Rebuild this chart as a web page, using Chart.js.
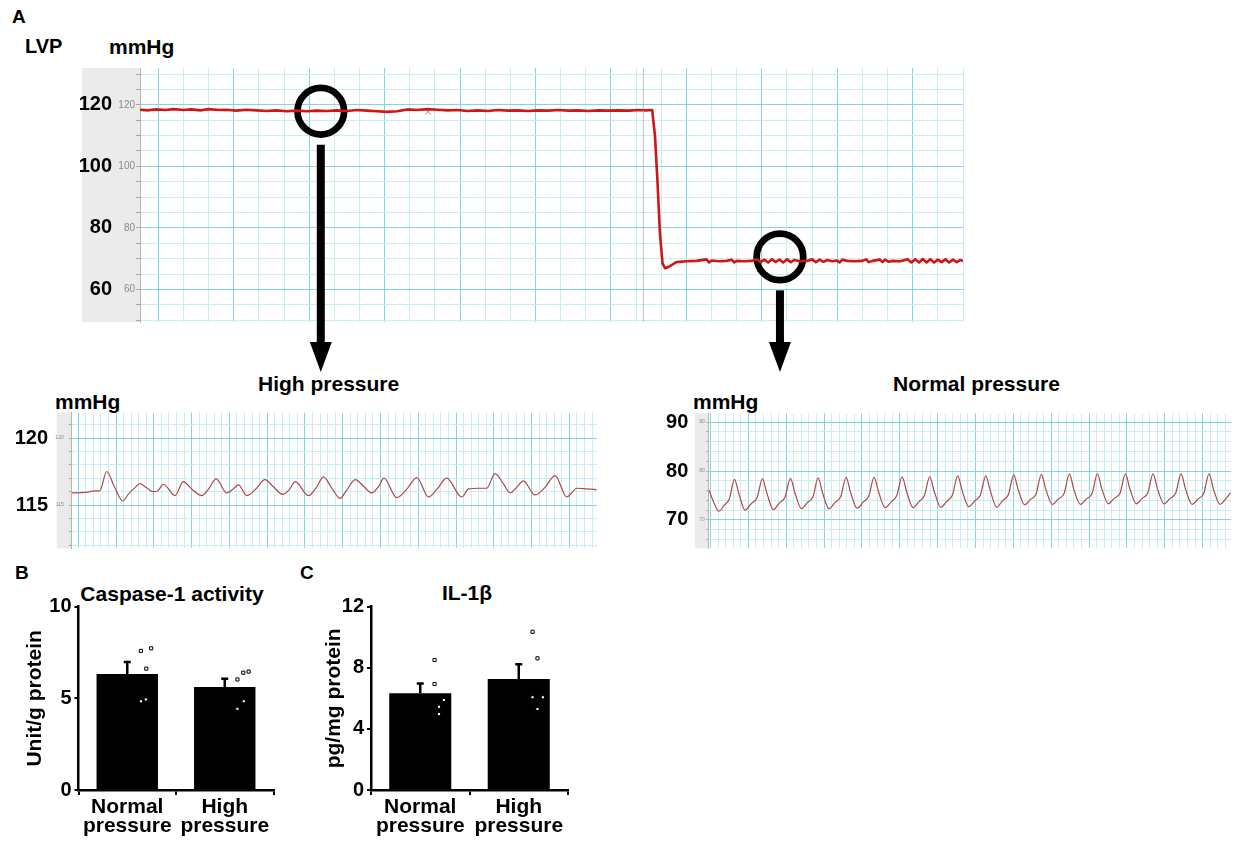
<!DOCTYPE html>
<html>
<head>
<meta charset="utf-8">
<script src="https://cdn.jsdelivr.net/npm/chart.js@4.4.1/dist/chart.umd.min.js"></script>
<style>
    body { margin: 0; background: #fff; }
    #page { position: relative; width: 1238px; height: 843px; overflow: hidden;
            font-family: "Liberation Sans", Arial, sans-serif; }
    #page canvas { position: absolute; }
    .lbl { position: absolute; font-weight: bold; font-size: 21px; line-height: 1; color: #000; white-space: nowrap; }
    .ctr { text-align: center; width: 300px; }
</style>
</head>
<body>
<div id="page">
    <div class="lbl" style="left:12px;top:7px;font-size:19px">A</div>
    <div class="lbl" style="left:25px;top:36px;font-size:20px">LVP</div>
    <div class="lbl" style="left:109px;top:36px">mmHg</div>
    <div class="lbl" style="left:258px;top:373px">High pressure</div>
    <div class="lbl" style="left:55px;top:391px">mmHg</div>
    <div class="lbl" style="left:893px;top:373px">Normal pressure</div>
    <div class="lbl" style="left:693px;top:391px">mmHg</div>
    <div class="lbl" style="left:15px;top:563px;font-size:19px">B</div>
    <div class="lbl" style="left:300px;top:563px;font-size:19px">C</div>
    <div class="lbl ctr" style="left:22px;top:583px">Caspase-1 activity</div>
    <div class="lbl ctr" style="left:317px;top:582px">IL-1β</div>

    <canvas id="lvpChart" width="980" height="320" style="left:0;top:60px"></canvas>
    <canvas id="highChart" width="605" height="150" style="left:0;top:405px"></canvas>
    <canvas id="normalChart" width="600" height="150" style="left:640px;top:405px"></canvas>
    <canvas id="caspaseChart" width="290" height="263" style="left:0;top:580px"></canvas>
    <canvas id="il1bChart" width="300" height="263" style="left:290px;top:580px"></canvas>
</div>

<script>
// ---- panel A overview: x in chart-paper divisions, y in mmHg ----
const lvpTime = [-0.73, -0.4, -0.1, 0.3, 0.6, 1.0, 1.3, 1.7, 2.0, 2.4,
    2.7, 3.1, 3.5, 3.9, 4.3, 4.7, 5.1, 5.5, 5.9, 6.3,
    6.7, 7.1, 7.5, 7.9, 8.3, 8.7, 9.1, 9.5, 9.9, 10.3,
    10.7, 11.1, 11.5, 11.9, 12.3, 12.7, 13.1, 13.5, 13.9, 14.3,
    14.7, 15.1, 15.5, 15.9, 16.3, 16.7, 17.1, 17.5, 17.9, 18.3,
    18.7, 19.1, 19.4, 19.64, 19.75, 19.85, 19.95, 20.05, 20.15, 20.3,
    20.6, 21.0, 21.4, 21.8, 21.9, 22.0, 22.3, 22.6, 22.8, 22.9,
    23.0, 23.3, 23.6, 23.8, 23.95, 24.1, 24.25, 24.4, 24.55, 24.7,
    24.85, 25.0, 25.15, 25.3, 25.5, 25.8, 26.0, 26.15, 26.3, 26.45,
    26.6, 26.8, 27.0, 27.1, 27.2, 27.4, 27.7, 28.0, 28.15, 28.25,
    28.4, 28.7, 28.8, 28.9, 29.05, 29.2, 29.5, 29.8, 29.95, 30.1,
    30.25, 30.4, 30.55, 30.7, 30.85, 31.0, 31.15, 31.3, 31.45, 31.6,
    31.75, 31.9, 32.0];
const lvpPressure = [118.4, 118.2, 118.5, 118.3, 118.6, 118.3, 118.5, 118.2, 118.6, 118.3,
    118.4, 118.1, 118.4, 118.2, 118.0, 118.2, 117.9, 118.1, 117.9, 118.1,
    118.0, 118.2, 118.0, 118.3, 118.1, 117.9, 117.7, 117.9, 118.5, 118.3,
    118.6, 118.4, 118.2, 118.3, 118.0, 118.2, 118.0, 118.3, 118.1, 118.2,
    118.0, 118.2, 118.1, 118.3, 118.1, 118.2, 118.0, 118.2, 118.1, 118.2,
    118.1, 118.3, 118.2, 118.3, 110.0, 95.0, 78.0, 68.5, 66.9, 67.4,
    68.9, 69.2, 69.3, 69.8, 68.8, 69.4, 69.2, 69.3, 69.7, 68.8,
    69.3, 69.2, 69.3, 69.8, 68.9, 69.7, 68.8, 69.8, 69.0, 69.7,
    68.8, 69.8, 68.9, 69.6, 69.2, 69.3, 69.8, 68.9, 69.7, 69.0,
    69.6, 69.2, 69.4, 68.8, 69.7, 69.3, 69.2, 69.3, 69.8, 68.9,
    69.3, 69.7, 68.9, 69.7, 69.0, 69.3, 69.2, 69.8, 68.8, 69.8,
    68.8, 69.9, 68.8, 69.8, 68.8, 69.7, 68.9, 69.8, 68.8, 69.7,
    68.9, 69.6, 69.2];
const lvpTicks = [60, 80, 100, 120];
const markerTime = 19.29;               // grey event line of the recorder
const crossTime = [10.73], crossPressure = [117.8];
const zoomTime = [6.46, 24.72], zoomPressure = [117.9, 70.6];

// ---- zoomed traces ----
const highTime = [-0.17, 0.2, 0.45, 0.57, 0.75, 0.95, 1.18, 1.32, 1.5, 1.63,
    1.8, 1.98, 2.1, 2.25, 2.56, 2.78, 3.0, 3.27, 3.45, 3.65,
    3.93, 4.1, 4.24, 4.46, 4.7, 4.94, 5.15, 5.41, 5.6, 5.74,
    6.09, 6.3, 6.49, 6.7, 6.93, 7.1, 7.33, 7.55, 7.77, 7.95,
    8.09, 8.43, 8.7, 8.96, 9.27, 9.5, 9.75, 10.15, 10.33, 10.6,
    10.81, 11.03, 11.25, 11.43, 11.6, 11.78, 12.09, 12.35, 12.62, 12.93,
    13.2, 13.45, 13.72];
const highPressure = [115.9, 115.95, 116.05, 116.05, 117.5, 116.4, 115.3, 115.8, 116.3, 116.6,
    116.3, 116.0, 116.05, 116.55, 115.7, 116.75, 116.2, 115.7, 116.2, 116.95,
    115.9, 116.2, 116.5, 115.7, 116.2, 116.9, 116.4, 115.8, 116.2, 116.75,
    115.7, 116.3, 117.1, 116.3, 115.5, 116.1, 116.9, 116.4, 115.9, 116.4,
    117.0, 115.55, 116.2, 117.05, 115.6, 116.2, 117.0, 115.6, 116.2, 116.25,
    116.25, 117.35, 116.6, 115.9, 116.3, 116.8, 115.75, 116.3, 117.2, 115.6,
    116.25, 116.2, 116.15];
const highTicks = [115, 120];

const normalTime = [
    -0.04, 0.10, 0.22, 0.36, 0.50,
    0.63, 0.75, 0.91, 1.07, 1.23,
    1.37, 1.49, 1.66, 1.81, 1.97,
    2.11, 2.23, 2.40, 2.55, 2.71,
    2.84, 2.96, 3.13, 3.29, 3.44,
    3.58, 3.70, 3.87, 4.03, 4.18,
    4.32, 4.44, 4.61, 4.77, 4.92,
    5.06, 5.18, 5.35, 5.50, 5.65,
    5.79, 5.91, 6.08, 6.24, 6.39,
    6.53, 6.65, 6.82, 6.98, 7.13,
    7.27, 7.39, 7.56, 7.71, 7.87,
    8.01, 8.13, 8.30, 8.45, 8.60,
    8.74, 8.86, 9.03, 9.19, 9.34,
    9.48, 9.60, 9.77, 9.93, 10.08,
    10.22, 10.34, 10.51, 10.66, 10.82,
    10.96, 11.08, 11.25, 11.40, 11.55,
    11.69, 11.81, 11.98, 12.14, 12.29,
    12.43, 12.55, 12.72, 12.88, 13.03,
    13.17, 13.29, 13.46, 13.62, 13.74];
const normalPressure = [
    76.1, 73.3, 71.8, 73.0, 74.4,
    78.3, 75.3, 72.0, 73.3, 74.6,
    78.4, 75.4, 72.1, 73.4, 74.7,
    78.5, 75.5, 72.3, 73.5, 74.8,
    78.6, 75.5, 72.3, 73.6, 74.8,
    78.7, 75.6, 72.4, 73.6, 74.9,
    78.7, 75.7, 72.5, 73.7, 75.0,
    78.8, 75.8, 72.5, 73.7, 75.0,
    78.8, 75.8, 72.6, 73.8, 75.1,
    79.0, 75.9, 72.7, 73.9, 75.1,
    79.0, 76.0, 72.6, 73.9, 75.2,
    79.2, 76.1, 73.1, 74.2, 75.3,
    79.3, 76.2, 73.2, 74.3, 75.4,
    79.4, 76.2, 73.2, 74.3, 75.4,
    79.4, 76.3, 73.3, 74.4, 75.5,
    79.4, 76.3, 73.3, 74.4, 75.5,
    79.4, 76.3, 73.3, 74.4, 75.5,
    79.4, 76.3, 73.2, 74.3, 75.4,
    79.4, 76.2, 73.2, 74.4, 75.6];
const normalTicks = [70, 80, 90];

// ---- panels B and C ----
const groups = [['Normal', 'pressure'], ['High', 'pressure']];
const caspaseMean = [6.33, 5.62];
const caspaseSem = [0.65, 0.45];
const caspaseDots = [[7.59, 7.73, 6.62, 4.84, 4.94], [6.03, 6.40, 6.46, 4.84, 4.43]];
const caspaseJitter = [[0.14, 0.245, 0.195, 0.14, 0.19], [0.13, 0.19, 0.245, 0.195, 0.13]];
const caspaseTicks = [0, 5, 10];
const il1bMean = [6.33, 7.27];
const il1bSem = [0.65, 0.97];
const il1bDots = [[8.51, 6.94, 5.89, 5.45, 4.97], [10.36, 8.62, 6.07, 6.07, 5.30]];
const il1bJitter = [[0.145, 0.145, 0.24, 0.19, 0.19], [0.14, 0.19, 0.14, 0.245, 0.19]];
const il1bTicks = [0, 4, 8, 12];

Chart.defaults.font.family = '"Liberation Sans", Arial, sans-serif';

function onStep(v, step) {
    const r = v / step;
    return Math.abs(r - Math.round(r)) < 1e-6;
}

function gridColor(major) {
    return function (c) {
        return onStep(c.tick.value, major) ? '#82d6e2' : '#c8eef3';
    };
}

function points(xs, ys) {
    return xs.map((x, i) => ({ x: x, y: ys[i] }));
}

// fixed axis boxes, no extra room for half labels
function fixWidth(w) {
    return function (s) { s.width = w; s.paddingTop = 0; s.paddingBottom = 0; };
}
function fixHeight(h) {
    return function (s) { s.height = h; s.paddingLeft = 0; s.paddingRight = 0; };
}

// grey label strip left of the recorder paper
const stripPlugin = {
    id: 'grayStrip',
    beforeDraw: function (chart, args, opts) {
        const a = chart.chartArea;
        const ctx = chart.ctx;
        ctx.save();
        ctx.fillStyle = '#ebebeb';
        ctx.fillRect(opts.left, a.top, a.left - opts.left, a.bottom - a.top);
        ctx.restore();
    }
};

// arrows from the black circles down to the zoomed traces
const arrowPlugin = {
    id: 'zoomArrows',
    afterDatasetsDraw: function (chart, args, opts) {
        const meta = chart.getDatasetMeta(opts.datasetIndex);
        const ctx = chart.ctx;
        const tip = chart.height - 8;
        ctx.save();
        ctx.fillStyle = '#000';
        meta.data.forEach(function (pt) {
            const top = pt.y + opts.radius + 7;
            ctx.fillRect(pt.x - 4, top, 8, tip - 29 - top);
            ctx.beginPath();
            ctx.moveTo(pt.x - 11, tip - 30);
            ctx.lineTo(pt.x + 11, tip - 30);
            ctx.lineTo(pt.x, tip);
            ctx.closePath();
            ctx.fill();
        });
        ctx.restore();
    }
};

const errorBarPlugin = {
    id: 'errorBars',
    afterDatasetsDraw: function (chart, args, opts) {
        const meta = chart.getDatasetMeta(0);
        const y = chart.scales.y;
        const ctx = chart.ctx;
        ctx.save();
        ctx.strokeStyle = '#000';
        ctx.lineWidth = 2.5;
        meta.data.forEach(function (bar, i) {
            const top = y.getPixelForValue(opts.mean[i] + opts.sem[i]);
            ctx.beginPath();
            ctx.moveTo(bar.x, bar.y);
            ctx.lineTo(bar.x, top);
            ctx.moveTo(bar.x - 3.5, top);
            ctx.lineTo(bar.x + 3.5, top);
            ctx.stroke();
        });
        ctx.restore();
    }
};

function traceChart(id, o) {
    const labelStep = o.labels[1] - o.labels[0];
    return new Chart(document.getElementById(id), {
        type: 'line',
        data: { datasets: o.datasets },
        options: {
            animation: false,
            responsive: false,
            events: [],
            layout: { padding: o.padding, autoPadding: false },
            plugins: {
                legend: { display: false },
                tooltip: { enabled: false },
                grayStrip: { left: o.stripLeft },
                zoomArrows: o.arrows || {}
            },
            scales: {
                x: {
                    type: 'linear', min: o.xMin, max: o.xMax,
                    afterFit: fixHeight(0),
                    ticks: { display: false, stepSize: o.xStep, includeBounds: false },
                    border: { display: false },
                    grid: { drawTicks: false, color: gridColor(o.xMajor) }
                },
                y: {
                    position: 'left', weight: 0, min: o.yMin, max: o.yMax,
                    afterFit: fixWidth(o.innerWidth),
                    ticks: {
                        stepSize: o.yStep, includeBounds: false, autoSkip: false,
                        padding: o.innerPad, color: '#8a8a8a',
                        font: { size: o.smallFont },
                        callback: function (v) { return onStep(v, labelStep) ? v : ''; }
                    },
                    border: { color: '#b5b5b5' },
                    grid: { color: gridColor(labelStep), tickLength: o.tickLen, tickColor: '#a5a5a5' }
                },
                yb: {
                    position: 'left', weight: 5, min: o.yMin, max: o.yMax,
                    afterFit: fixWidth(o.outerWidth),
                    ticks: {
                        stepSize: labelStep, includeBounds: false, autoSkip: false,
                        padding: o.outerPad, color: '#000',
                        font: { size: 20, weight: 'bold' }
                    },
                    border: { display: false },
                    grid: { display: false, drawTicks: false }
                }
            }
        },
        plugins: [stripPlugin].concat(o.arrows ? [arrowPlugin] : [])
    });
}

function barChart(id, o) {
    const dots = [];
    o.dots.forEach(function (vals, g) {
        vals.forEach(function (v, i) { dots.push({ x: g + o.jitter[g][i], y: v }); });
    });
    return new Chart(document.getElementById(id), {
        type: 'bar',
        data: {
            labels: groups,
            datasets: [{
                data: o.mean, backgroundColor: '#000', grouped: false,
                barPercentage: 0.63, categoryPercentage: 1, order: 2
            }, {
                type: 'scatter', data: dots, xAxisID: 'xd', order: 1,
                pointStyle: 'rect', pointRadius: 2.2,
                backgroundColor: '#fff', borderColor: '#000', borderWidth: 1
            }]
        },
        options: {
            animation: false,
            responsive: false,
            events: [],
            layout: { padding: o.padding, autoPadding: false },
            plugins: {
                legend: { display: false },
                tooltip: { enabled: false },
                errorBars: { mean: o.mean, sem: o.sem }
            },
            scales: {
                x: {
                    type: 'category', offset: true,
                    afterFit: fixHeight(o.xHeight),
                    border: { color: '#000', width: 2.5 },
                    grid: { offset: true, drawOnChartArea: false, color: '#000', lineWidth: 2, tickLength: 5 },
                    ticks: {
                        color: '#000', padding: 3, maxRotation: 0, autoSkip: false,
                        font: { size: 21, weight: 'bold', lineHeight: 0.9 }
                    }
                },
                xd: { type: 'linear', display: false, offset: false, min: -0.5, max: 1.5 },
                y: {
                    min: o.ticks[0], max: o.ticks[o.ticks.length - 1],
                    afterFit: fixWidth(o.yWidth),
                    ticks: {
                        stepSize: o.ticks[1] - o.ticks[0], color: '#000', padding: 3,
                        font: { size: 20, weight: 'bold' }
                    },
                    border: { color: '#000', width: 2.5 },
                    grid: { drawOnChartArea: false, color: '#000', lineWidth: 2, tickLength: 4 },
                    title: {
                        display: true, text: o.yTitle, color: '#000',
                        font: { size: 21, weight: 'bold', lineHeight: 1.2 },
                        padding: { top: 4, bottom: 4 }
                    }
                }
            }
        },
        plugins: [errorBarPlugin]
    });
}

// A: full recording with the two zoom circles
traceChart('lvpChart', {
    padding: { left: 0, top: 8, right: 17, bottom: 58 },
    stripLeft: 82,
    xMin: -0.73, xMax: 32.0, xStep: 1, xMajor: 3,
    yMin: 49.45, yMax: 131.95, yStep: 5, labels: lvpTicks,
    innerWidth: 26, innerPad: 1, tickLen: 4, smallFont: 10,
    outerWidth: 114, outerPad: 2,
    arrows: { datasetIndex: 3, radius: 26.5 },
    datasets: [{
        data: [{ x: markerTime, y: 49.45 }, { x: markerTime, y: 131.95 }],
        borderColor: 'rgba(150,150,150,0.55)', borderWidth: 1, pointRadius: 0
    }, {
        data: points(lvpTime, lvpPressure),
        borderColor: '#d01515', borderWidth: 2.6, pointRadius: 0, tension: 0,
        borderJoinStyle: 'round'
    }, {
        type: 'scatter', data: points(crossTime, crossPressure),
        pointStyle: 'crossRot', pointRadius: 4, borderColor: '#888', borderWidth: 1
    }, {
        type: 'scatter', data: points(zoomTime, zoomPressure), clip: false,
        pointStyle: 'circle', pointRadius: 23.3, borderWidth: 6.7,
        borderColor: '#000', backgroundColor: 'rgba(0,0,0,0)'
    }]
});

traceChart('highChart', {
    padding: { left: 0, top: 7.7, right: 8, bottom: 6.7 },
    stripLeft: 56.7,
    xMin: -0.175, xMax: 13.73, xStep: 0.2, xMajor: 1,
    yMin: 111.77, yMax: 121.89, yStep: 1, labels: highTicks,
    innerWidth: 19.7, innerPad: 5, tickLen: 3, smallFont: 5,
    outerWidth: 52, outerPad: 4,
    datasets: [{
        data: points(highTime, highPressure),
        borderColor: '#b04848', borderWidth: 1.2, pointRadius: 0,
        cubicInterpolationMode: 'monotone'
    }]
});

traceChart('normalChart', {
    padding: { left: 0, top: 8.3, right: 9, bottom: 6.7 },
    stripLeft: 55,
    xMin: -0.06, xMax: 13.75, xStep: 0.2, xMajor: 1,
    yMin: 64.2, yMax: 91.8, yStep: 2, labels: normalTicks,
    innerWidth: 16.3, innerPad: 1.5, tickLen: 2, smallFont: 5,
    outerWidth: 52, outerPad: 3.7,
    datasets: [{
        data: points(normalTime, normalPressure),
        borderColor: '#b04848', borderWidth: 1.2, pointRadius: 0,
        cubicInterpolationMode: 'monotone'
    }]
});

barChart('caspaseChart', {
    mean: caspaseMean, sem: caspaseSem, dots: caspaseDots, jitter: caspaseJitter,
    ticks: caspaseTicks, yTitle: 'Unit/g protein',
    padding: { left: 19, top: 26.7, right: 16.5, bottom: 0 },
    yWidth: 59.5, xHeight: 53
});

barChart('il1bChart', {
    mean: il1bMean, sem: il1bSem, dots: il1bDots, jitter: il1bJitter,
    ticks: il1bTicks, yTitle: 'pg/mg protein',
    padding: { left: 27.3, top: 26.7, right: 22, bottom: 0 },
    yWidth: 53.7, xHeight: 53
});
</script>
</body>
</html>
